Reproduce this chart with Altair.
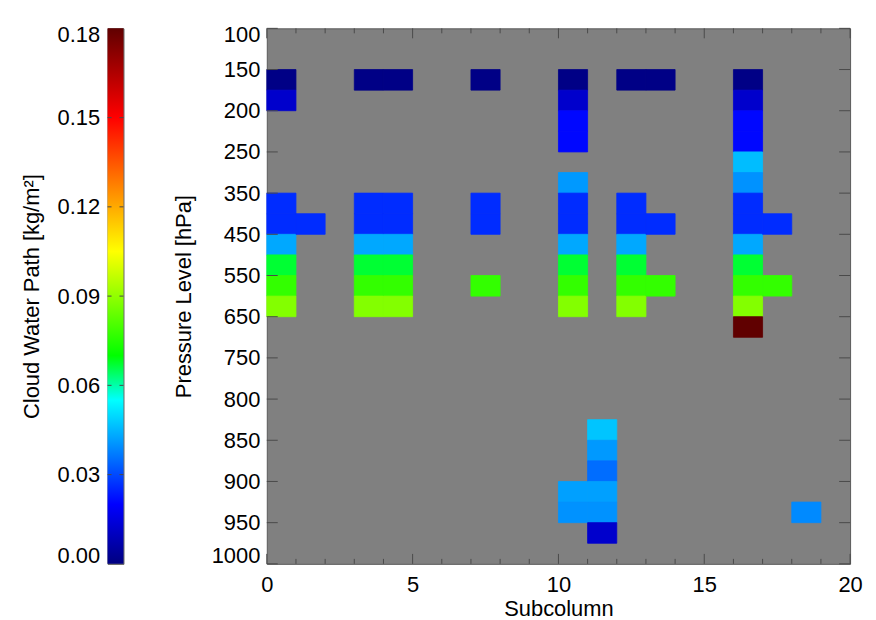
import altair as alt
import pandas as pd

# ---- data ----
sub_col = [0, 0, 0, 0, 0, 0, 0, 0,
           1,
           3, 3, 3, 3, 3, 3, 3,
           4, 4, 4, 4, 4, 4, 4,
           7, 7, 7, 7,
           10, 10, 10, 10, 10, 10, 10, 10, 10, 10, 10, 10, 10,
           11, 11, 11, 11, 11, 11,
           12, 12, 12, 12, 12, 12, 12,
           13, 13, 13,
           16, 16, 16, 16, 16, 16, 16, 16, 16, 16, 16, 16, 16,
           17, 17,
           18]
level_idx = [2, 3, 8, 9, 10, 11, 12, 13,
             9,
             2, 8, 9, 10, 11, 12, 13,
             2, 8, 9, 10, 11, 12, 13,
             2, 8, 9, 12,
             2, 3, 4, 5, 7, 8, 9, 10, 11, 12, 13, 22, 23,
             19, 20, 21, 22, 23, 24,
             2, 8, 9, 10, 11, 12, 13,
             2, 9, 12,
             2, 3, 4, 5, 6, 7, 8, 9, 10, 11, 12, 13, 14,
             9, 12,
             23]
cwp = [0.001, 0.012, 0.026, 0.026, 0.043, 0.067, 0.077, 0.088,
       0.026,
       0.001, 0.026, 0.026, 0.043, 0.067, 0.077, 0.088,
       0.001, 0.026, 0.026, 0.043, 0.067, 0.077, 0.088,
       0.001, 0.026, 0.026, 0.077,
       0.001, 0.012, 0.021, 0.021, 0.041, 0.026, 0.026, 0.043, 0.067, 0.077, 0.088, 0.042, 0.040,
       0.047, 0.041, 0.035, 0.042, 0.040, 0.012,
       0.001, 0.026, 0.026, 0.043, 0.067, 0.077, 0.088,
       0.001, 0.026, 0.077,
       0.001, 0.012, 0.021, 0.021, 0.046, 0.040, 0.026, 0.026, 0.043, 0.067, 0.077, 0.088, 0.180,
       0.026, 0.077,
       0.039]

pressure_labels = ["100", "150", "200", "250", "350", "450", "550", "650",
                   "750", "800", "850", "900", "950", "1000"]
pressure_tick_pos = [0, 2, 4, 6, 8, 10, 12, 14, 16, 18, 20, 22, 24, 26]
x_major = [0, 5, 10, 15, 20]
x_minor = [1, 2, 3, 4, 6, 7, 8, 9, 11, 12, 13, 14, 16, 17, 18, 19]
cbar_ticks = [0.0, 0.03, 0.06, 0.09, 0.12, 0.15, 0.18]

cmap_domain = [0.0, 0.02, 0.055, 0.07, 0.105, 0.15, 0.18]
cmap_colors = ["#000080", "#0000ff", "#00ffff", "#00ff00", "#ffff00", "#ff0000", "#600000"]

FONT = "Liberation Sans"
FS = 22
W, H = 586, 538
TICK = "#4a4a4a"

cells = pd.DataFrame({"col": sub_col, "row": level_idx, "cwp": cwp})
ytick_df = pd.DataFrame({"row": pressure_tick_pos})
xmaj_df = pd.DataFrame({"col": x_major})
xmin_df = pd.DataFrame({"col": x_minor})

xscale = alt.Scale(domain=[0, 20], nice=False, zero=False)
yscale = alt.Scale(domain=[0, 26], nice=False, zero=False, reverse=True)
cscale = alt.Scale(domain=cmap_domain, range=cmap_colors, interpolate="rgb")

label_expr = "[" + ",".join("'" + s + "'" for s in pressure_labels) + "][round(datum.value/2)]"

heat = alt.Chart(cells).transform_calculate(
    col_end="datum.col + 1", row_end="datum.row + 1"
).mark_rect(strokeWidth=0.8).encode(
    x=alt.X("col:Q", scale=xscale,
            axis=alt.Axis(values=x_major, title="Subcolumn", labelFlush=False,
                          ticks=False, domain=False, grid=False, labelPadding=11,
                          titlePadding=3)),
    x2="col_end:Q",
    y=alt.Y("row:Q", scale=yscale,
            axis=alt.Axis(values=pressure_tick_pos, labelExpr=label_expr,
                          title="Pressure Level [hPa]", labelFlush=True, labelFlushOffset=4,
                          ticks=False, domain=False, grid=False, labelPadding=7,
                          titlePadding=16)),
    y2="row_end:Q",
    color=alt.Color("cwp:Q", scale=cscale, legend=None),
    stroke=alt.Stroke("cwp:Q", scale=cscale, legend=None),
)

yt_left = alt.Chart(ytick_df).mark_rule(color=TICK, strokeWidth=1).encode(
    y=alt.Y("row:Q", scale=yscale), x=alt.value(0), x2=alt.value(11))
yt_right = alt.Chart(ytick_df).mark_rule(color=TICK, strokeWidth=1).encode(
    y=alt.Y("row:Q", scale=yscale), x=alt.value(W - 11), x2=alt.value(W))
xt_maj_b = alt.Chart(xmaj_df).mark_rule(color=TICK, strokeWidth=1).encode(
    x=alt.X("col:Q", scale=xscale), y=alt.value(H - 10), y2=alt.value(H))
xt_maj_t = alt.Chart(xmaj_df).mark_rule(color=TICK, strokeWidth=1).encode(
    x=alt.X("col:Q", scale=xscale), y=alt.value(0), y2=alt.value(10))
xt_min_b = alt.Chart(xmin_df).mark_rule(color=TICK, strokeWidth=1).encode(
    x=alt.X("col:Q", scale=xscale), y=alt.value(H - 5), y2=alt.value(H))
xt_min_t = alt.Chart(xmin_df).mark_rule(color=TICK, strokeWidth=1).encode(
    x=alt.X("col:Q", scale=xscale), y=alt.value(0), y2=alt.value(5))

main = alt.layer(heat, yt_left, yt_right, xt_maj_b, xt_maj_t, xt_min_b, xt_min_t).properties(
    width=W, height=H)

# ---- colour bar ----
lo, hi = cmap_domain[0], cmap_domain[-1]
stops = [{"offset": (d - lo) / (hi - lo), "color": c} for d, c in zip(cmap_domain, cmap_colors)]
gradient = {"gradient": "linear", "x1": 0, "y1": 1, "x2": 0, "y2": 0, "stops": stops}

cb_scale = alt.Scale(domain=[lo, hi], nice=False, zero=False)
cb_df = pd.DataFrame({"lo": [lo], "hi": [hi]})
cbar_rect = alt.Chart(cb_df).mark_rect(fill=gradient, strokeWidth=0).encode(
    y=alt.Y("lo:Q", scale=cb_scale,
            axis=alt.Axis(values=cbar_ticks, format=".2f", title="Cloud Water Path [kg/m²]",
                          labelFlush=True, labelFlushOffset=4, ticks=False, domain=False,
                          grid=False, labelPadding=8, titlePadding=14)),
    y2="hi:Q",
    x=alt.value(0), x2=alt.value(16),
)
cbt_df = pd.DataFrame({"v": cbar_ticks[1:-1]})
cb_tl = alt.Chart(cbt_df).mark_rule(color=TICK, strokeWidth=1).encode(
    y=alt.Y("v:Q", scale=cb_scale), x=alt.value(0), x2=alt.value(4))
cb_tr = alt.Chart(cbt_df).mark_rule(color=TICK, strokeWidth=1).encode(
    y=alt.Y("v:Q", scale=cb_scale), x=alt.value(12), x2=alt.value(16))
cbar = alt.layer(cbar_rect, cb_tl, cb_tr).properties(width=16, height=H)

chart = alt.hconcat(cbar, main, spacing=47).properties(
    padding={"left": 11, "top": 13, "right": 5, "bottom": 5},
    background="white",
).configure_view(
    fill="#808080", stroke="#5a5a5a", strokeWidth=1
).configure_axis(
    labelFont=FONT, titleFont=FONT, labelFontSize=FS, titleFontSize=FS,
    labelColor="black", titleColor="black", titleFontWeight="normal",
)

chart.save("out.html", embed_options={"renderer": "svg", "actions": False})
